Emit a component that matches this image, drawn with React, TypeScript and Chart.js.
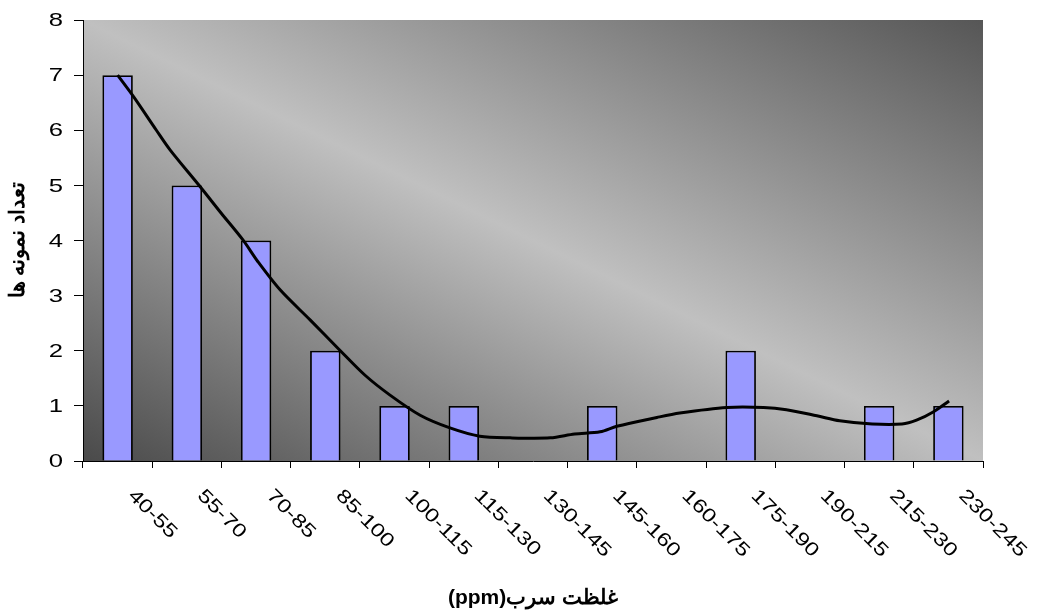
import React, { useEffect, useRef } from "react";
import { Chart, registerables } from "chart.js";

Chart.register(...registerables);

const categories = [
  "40-55", "55-70", "70-85", "85-100", "100-115", "115-130", "130-145",
  "145-160", "160-175", "175-190", "190-215", "215-230", "230-245",
];
const counts = [7, 5, 4, 2, 1, 1, 0, 1, 0, 2, 0, 1, 1];
const trendX = [
  0, 0.23, 0.56, 0.76, 1.19, 1.5, 1.81, 2.03, 2.35, 2.78, 3.21, 3.57, 3.93,
  4.37, 4.8, 5.23, 5.67, 6.25, 6.6, 6.97, 7.21, 7.79, 8.12, 8.8, 9.33, 9.66,
  10.1, 10.43, 10.9, 11.33, 11.54, 11.78, 12.01,
];
const trendY = [
  7.0, 6.61, 6.0, 5.64, 4.98, 4.49, 4.01, 3.61, 3.1, 2.56, 2.01, 1.56, 1.2,
  0.83, 0.6, 0.45, 0.42, 0.42, 0.49, 0.53, 0.63, 0.79, 0.87, 0.97, 0.97, 0.93,
  0.82, 0.73, 0.67, 0.67, 0.74, 0.89, 1.09,
];
const yTicks = [0, 1, 2, 3, 4, 5, 6, 7, 8];
const xTitle = "غلظت سرب(ppm)";
const yTitle = "تعداد نمونه ها";

const FONT = '"Liberation Sans", Arial, sans-serif';
const STRETCH = 1.25;

const bgPlugin = {
  id: "bgGradient",
  beforeDraw(chart: any) {
    const { ctx, chartArea } = chart;
    const { left, top, right, bottom } = chartArea;
    ctx.save();
    ctx.fillStyle = "#ffffff";
    ctx.fillRect(0, 0, chart.width, chart.height);
    ctx.translate(left, bottom);
    ctx.scale(right - left, -(bottom - top));
    const g = ctx.createLinearGradient(0, 0, 1, 1);
    g.addColorStop(0, "#4a4a4a");
    g.addColorStop(0.5, "#c0c0c0");
    g.addColorStop(1, "#565656");
    ctx.fillStyle = g;
    ctx.fillRect(0, 0, 1, 1);
    ctx.restore();
  },
};

const textPlugin = {
  id: "customText",
  afterDraw(chart: any) {
    const { ctx } = chart;
    const xs = chart.scales.x;
    const ys = chart.scales.y;
    ctx.save();
    ctx.fillStyle = "#000";
    ctx.font = `19px ${FONT}`;
    // x category labels, rotated 45° clockwise
    ctx.textAlign = "left";
    ctx.textBaseline = "top";
    categories.forEach((lab, i) => {
      const px = xs.getPixelForValue(i);
      ctx.save();
      ctx.translate(px + 20, xs.top + 25);
      ctx.rotate(Math.PI / 4);
      ctx.scale(STRETCH, 1);
      ctx.fillText(lab, 0, 0);
      ctx.restore();
    });
    // y tick labels
    ctx.textAlign = "right";
    ctx.textBaseline = "middle";
    yTicks.forEach((v) => {
      const py = ys.getPixelForValue(v);
      ctx.save();
      ctx.translate(63, py + 1);
      ctx.scale(1.35, 1);
      ctx.fillText(String(v), 0, 0);
      ctx.restore();
    });
    // titles
    ctx.font = `bold 21px ${FONT}`;
    ctx.textAlign = "center";
    ctx.textBaseline = "middle";
    ctx.direction = "rtl";
    ctx.fillText(xTitle, 533, 598);
    ctx.save();
    ctx.translate(18, 240);
    ctx.rotate(-Math.PI / 2);
    ctx.fillText(yTitle, 0, 0);
    ctx.restore();
    ctx.restore();
  },
};

export default function App() {
  const ref = useRef<HTMLCanvasElement>(null);
  useEffect(() => {
    if (!ref.current) return;
    const chart = new Chart(ref.current, {
      type: "bar",
      data: {
        labels: categories,
        datasets: [
          {
            type: "line",
            data: trendX.map((x, i) => ({ x, y: trendY[i] })),
            xAxisID: "x2",
            yAxisID: "y",
            borderColor: "#000",
            borderWidth: 3,
            pointRadius: 0,
            tension: 0.3,
            fill: false,
            order: 0,
          } as any,
          {
            type: "bar",
            data: counts,
            xAxisID: "x",
            yAxisID: "y",
            backgroundColor: "#9999ff",
            borderColor: "#000",
            borderWidth: 1.8,
            barPercentage: 0.44,
            categoryPercentage: 1,
            grouped: false,
            order: 1,
          } as any,
        ],
      },
      options: {
        responsive: false,
        animation: false,
        layout: { padding: { left: 0, top: 20, right: 59, bottom: 148 } },
        plugins: {
          legend: { display: false },
          tooltip: { enabled: false },
          title: { display: false },
        },
        scales: {
          x: {
            type: "category",
            offset: true,
            grid: {
              offset: true,
              drawOnChartArea: false,
              drawTicks: true,
              tickLength: 7,
              color: "#000",
            },
            border: { color: "#000", width: 1 },
            ticks: { display: false },
            afterFit(scale: any) {
              scale.height = 7;
            },
          },
          x2: {
            type: "linear",
            display: false,
            min: -0.5,
            max: 12.5,
            offset: false,
          },
          y: {
            type: "linear",
            min: 0,
            max: 8,
            afterBuildTicks(scale: any) {
              scale.ticks = yTicks.map((v) => ({ value: v }));
            },
            grid: {
              drawOnChartArea: false,
              drawTicks: true,
              tickLength: 9,
              color: "#000",
            },
            border: { color: "#000", width: 1 },
            ticks: { display: false },
            afterFit(scale: any) {
              scale.width = 83;
            },
          },
        },
      },
      plugins: [bgPlugin, textPlugin],
    });
    return () => chart.destroy();
  }, []);
  return (
    <div style={{ position: "absolute", left: 0, top: 0, width: 1042, height: 616 }}>
      <canvas ref={ref} width={1042} height={616} style={{ width: 1042, height: 616 }} />
    </div>
  );
}
